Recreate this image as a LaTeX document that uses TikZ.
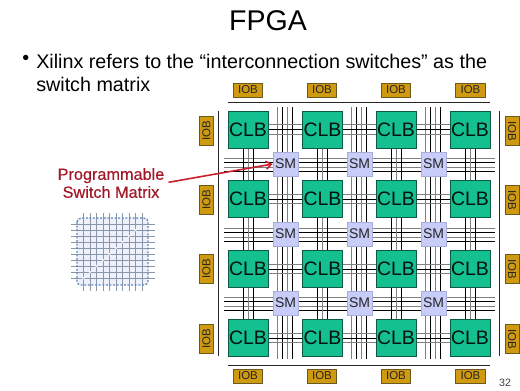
\documentclass[tikz,border=0pt]{standalone}
\usepackage{fontspec}
\usetikzlibrary{arrows.meta}
\setmainfont{Liberation Sans}
\newfontfamily\redfont[FakeBold=0.35]{Liberation Sans}
\definecolor{clbfill}{HTML}{14C090}
\definecolor{clbedge}{HTML}{0A5A45}
\definecolor{smfill}{HTML}{C8CCF8}
\definecolor{smedge}{HTML}{A8ACD8}
\definecolor{iobfill}{HTML}{D09A10}
\definecolor{iobedge}{HTML}{6A5A20}
\definecolor{wiregray}{HTML}{808080}
\definecolor{labelred}{HTML}{A01828}
\definecolor{arrowred}{HTML}{C8202C}
\definecolor{gridblue}{HTML}{5F86B8}
\definecolor{gridline}{HTML}{8A97AA}
\definecolor{gridfill}{HTML}{EEF1FB}
\tikzset{
  clb/.style={draw=clbedge,line width=0.6pt,fill=clbfill,minimum width=30pt,minimum height=27.75pt,inner sep=0pt,font=\fontsize{14.6}{15}\selectfont,text=black!80!clbedge},
  sm/.style={draw=smedge,line width=0.6pt,fill=smfill,minimum width=18.75pt,minimum height=18pt,inner sep=0pt,font=\fontsize{10.5}{11}\selectfont,text=black!85},
  iob/.style={draw=iobedge,line width=0.6pt,fill=iobfill,minimum width=22pt,minimum height=10.5pt,inner sep=0pt,font=\fontsize{8.6}{9}\selectfont,text=black!85},
  wire/.style={line width=0.6pt,draw=black},
  wireg/.style={line width=0.75pt,draw=wiregray},
  rulel/.style={line width=0.6pt,draw=black!85},
  bodytext/.style={anchor=west,inner sep=0pt,font=\fontsize{14.8}{15}\selectfont,text=black},
  redlabel/.style={align=center,inner sep=0pt,text=labelred,font=\redfont\fontsize{12.2}{13.5}\selectfont}
}
\begin{document}
\begin{tikzpicture}[x=0.75pt,y=-0.75pt]
\useasboundingbox[fill=white] (0,0) rectangle (520,390);
% title and text
\node[inner sep=0pt,font=\fontsize{21.4}{22}\selectfont] (title) at (268,21) {FPGA};
\node[bodytext] (bullet) at (22,60) {•};
\node[bodytext] (line1) at (36,61) {Xilinx refers to the “interconnection switches” as the};
\node[bodytext] (line2) at (36,84) {switch matrix};
\node[inner sep=0pt,font=\fontsize{8}{8}\selectfont,text=black!75] (page) at (505,383) {32};
% wires through the switch-matrix columns and rows
\foreach \c in {285.5,359.5,433.5}{
  \draw[wireg] (\c-8.5,107) -- (\c-8.5,359);
  \draw[wire]  (\c-3.5,107) -- (\c-3.5,359);
  \draw[wireg] (\c+1.5,107) -- (\c+1.5,359);
  \draw[wire]  (\c+6.5,107) -- (\c+6.5,359);
}
\foreach \r in {164,234,303}{
  \draw[wireg] (224,\r-6) -- (495,\r-6);
  \draw[wire]  (224,\r-2) -- (495,\r-2);
  \draw[wireg] (224,\r+3) -- (495,\r+3);
  \draw[wire]  (224,\r+7) -- (495,\r+7);
}
% short wires between neighbouring blocks
\foreach \c in {248,322.5,396,470}{
  \foreach \r in {164,234,303}{
    \draw[wire]  (\c-5,\r-17) -- (\c-5,\r+17);
    \draw[wireg] (\c,\r-17) -- (\c,\r+17);
    \draw[wire]  (\c+5,\r-17) -- (\c+5,\r+17);
  }
}
\foreach \r in {129.5,199,269,338}{
  \foreach \c in {285.5,359.5,433.5}{
    \draw[wireg] (\c-20,\r-5) -- (\c+20,\r-5);
    \draw[wire]  (\c-20,\r) -- (\c+20,\r);
    \draw[wireg] (\c-20,\r+4.5) -- (\c+20,\r+4.5);
  }
}
% boundary rules
\draw[rulel] (228,102) -- (490,102);
\draw[rulel] (228,365) -- (490,365);
\draw[rulel] (218,111) -- (218,356);
\draw[rulel] (499,111) -- (499,356);
% CLBs
\foreach \c/\i in {248/1,322.5/2,396/3,470/4}{
  \foreach \r/\j in {129.5/1,199/2,269/3,338/4}{
    \node[clb] (clb\j\i) at (\c,\r) {CLB};
  }
}
% SMs
\foreach \c/\i in {285.5/1,359.5/2,433.5/3}{
  \foreach \r/\j in {164/1,234/2,303/3}{
    \node[sm] (sm\j\i) at (\c,\r) {SM};
  }
}
% IOBs
\foreach \c/\i in {248/1,322/2,396/3,470.5/4}{
  \node[iob,minimum width=22pt] (iobt\i) at (\c,90) {IOB};
  \node[iob,minimum width=22pt] (iobb\i) at (\c,376) {IOB};
}
\foreach \r/\j in {131/1,200/2,269/3,339/4}{
  \node[iob,rotate=90] (iobl\j) at (206.5,\r) {IOB};
  \node[iob,rotate=-90] (iobr\j) at (512,\r) {IOB};
}
% switch matrix icon
\fill[gridfill] (77,218) rectangle (148,285);
\foreach \k in {0,...,9}{
  \draw[gridline,line width=0.4pt] (83.5+\k*6.5,213) -- (83.5+\k*6.5,291);
  \draw[gridline,line width=0.4pt] (71,224+\k*6) -- (155,224+\k*6);
}
\draw[gridblue,line width=0.9pt,dash pattern=on 1.5pt off 1.2pt,rounded corners=3pt] (77,218) rectangle (148,285);
\foreach \k in {0,...,8}{
  \fill[white,opacity=0.8] (83.5+\k*6.5,278-\k*6) circle (1.3);
}
% callout
\node[redlabel] (label) at (111,183) {Programmable\\Switch Matrix};
\draw[arrowred,line width=1.2pt,-{Straight Barb[length=4pt,width=6pt]},shorten <=3pt] (label.east) ++(0,0) -- (sm11.west);
\end{tikzpicture}
\end{document}
